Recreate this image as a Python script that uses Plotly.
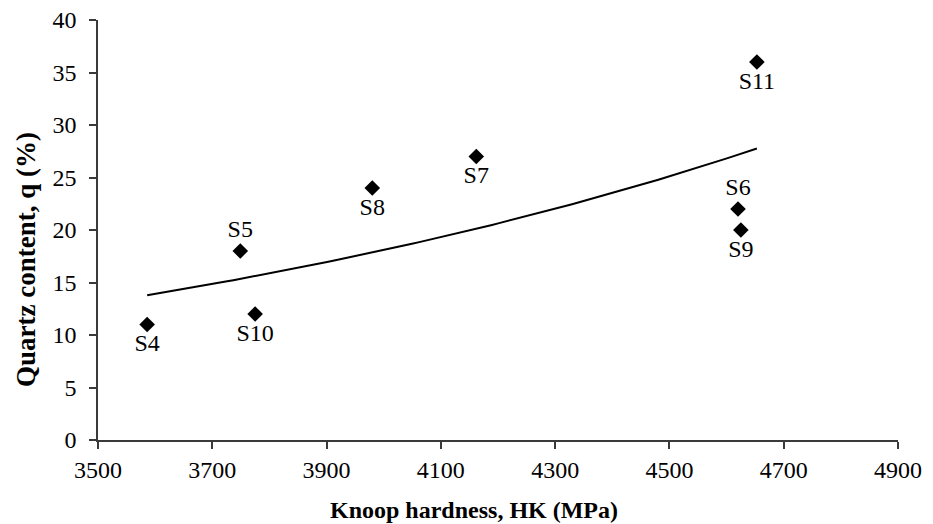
import numpy as np
import plotly.graph_objects as go

samples = ["S4", "S5", "S10", "S8", "S7", "S6", "S9", "S11"]
hardness = [3586, 3749, 3775, 3980, 4162, 4620, 4625, 4653]
quartz = [11, 18, 12, 24, 27, 22, 20, 36]
label_pos = ["bottom center", "top center", "bottom center", "bottom center",
             "bottom center", "top center", "bottom center", "bottom center"]

x_ticks = [3500, 3700, 3900, 4100, 4300, 4500, 4700, 4900]
y_ticks = [0, 5, 10, 15, 20, 25, 30, 35, 40]

# exponential trendline fitted from the data (as in a spreadsheet trendline)
b, ln_a = np.polyfit(hardness, np.log(quartz), 1)
xt = np.linspace(min(hardness), max(hardness), 100)
yt = np.exp(ln_a + b * xt)

font = "Liberation Serif, Times New Roman, serif"
axis_col = "#3a3a3a"

fig = go.Figure()
fig.add_trace(go.Scatter(x=xt, y=yt, mode="lines",
                         line=dict(color="black", width=2), showlegend=False,
                         hoverinfo="skip"))
fig.add_trace(go.Scatter(x=hardness, y=quartz, mode="markers+text",
                         text=samples, textposition=label_pos,
                         textfont=dict(family=font, size=24, color="black"),
                         marker=dict(symbol="diamond", size=12, color="black"),
                         showlegend=False))

fig.update_layout(
    width=933, height=524,
    margin=dict(l=98, r=35, t=20, b=84, autoexpand=False),
    paper_bgcolor="white", plot_bgcolor="white",
    font=dict(family=font, size=24, color="black"),
    annotations=[
        dict(text="<b>Knoop hardness, HK (MPa)</b>", xref="paper", yref="paper",
             x=(474 - 98) / 800, y=-(510 - 440) / 420, xanchor="center",
             yanchor="middle", showarrow=False,
             font=dict(family=font, size=24, color="black")),
        dict(text="<b>Quartz content, q (%)</b>", xref="paper", yref="paper",
             x=-(98 - 26) / 800, y=(440 - 260) / 420, xanchor="center",
             yanchor="middle", showarrow=False, textangle=-90,
             font=dict(family=font, size=27, color="black")),
    ],
)
fig.update_xaxes(range=[3500, 4900], tickvals=x_ticks,
                 ticktext=[str(v) for v in x_ticks],
                 showgrid=False, zeroline=False, showline=True,
                 linecolor=axis_col, linewidth=1.5,
                 ticks="outside", ticklen=7, tickcolor=axis_col, tickwidth=1.5,
                 tickfont=dict(family=font, size=24))
fig.update_yaxes(range=[0, 40], tickvals=y_ticks,
                 showgrid=False, zeroline=False, showline=True,
                 linecolor=axis_col, linewidth=1.5,
                 ticks="outside", ticklen=7, tickcolor=axis_col, tickwidth=1.5,
                 ticklabelstandoff=8,
                 tickfont=dict(family=font, size=24))

fig.write_html("out.html", post_script="document.body.style.margin='0';",
               config={"displayModeBar": False})
